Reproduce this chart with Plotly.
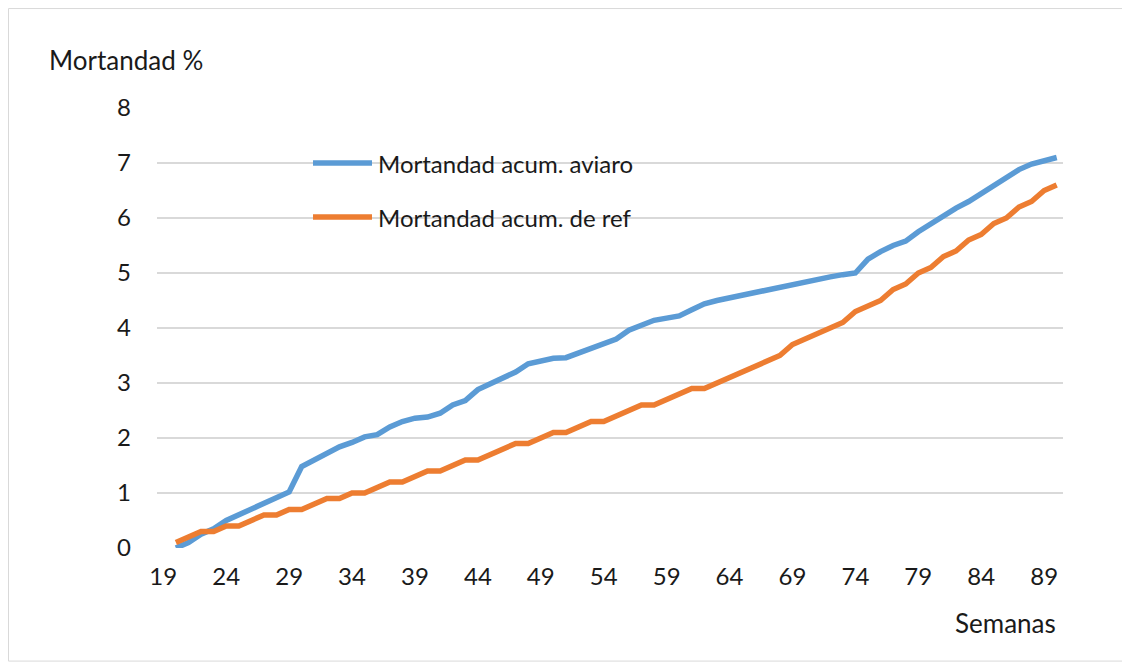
import plotly.graph_objects as go

# semanas de vida (eje de categorías 19..90, datos desde la 20)
semanas = list(range(20, 91))

# mortandad acumulada del aviaro (%)
mort_aviaro = [0.0, 0.1, 0.25, 0.35, 0.5, 0.6, 0.7, 0.8, 0.92, 1.02,
               1.48, 1.6, 1.7, 1.84, 1.92, 2.02, 2.06, 2.2, 2.3, 2.36,
               2.38, 2.45, 2.6, 2.68, 2.88, 2.98, 3.1, 3.2, 3.35, 3.4,
               3.45, 3.46, 3.55, 3.64, 3.72, 3.8, 3.96, 4.05, 4.14, 4.18,
               4.22, 4.33, 4.44, 4.5, 4.55, 4.6, 4.65, 4.68, 4.75, 4.8,
               4.83, 4.9, 4.93, 4.97, 5.0, 5.25, 5.39, 5.5, 5.58, 5.75,
               5.9, 6.04, 6.18, 6.3, 6.45, 6.6, 6.74, 6.88, 6.98, 7.04,
               7.1]

# mortandad acumulada de referencia (%)
mort_ref = [0.1, 0.2, 0.3, 0.3, 0.4, 0.4, 0.5, 0.6, 0.6, 0.7,
            0.7, 0.8, 0.9, 0.9, 1.0, 1.0, 1.1, 1.2, 1.2, 1.3,
            1.4, 1.4, 1.5, 1.6, 1.6, 1.7, 1.8, 1.9, 1.9, 2.0,
            2.1, 2.1, 2.2, 2.3, 2.3, 2.4, 2.5, 2.6, 2.6, 2.7,
            2.8, 2.9, 2.9, 3.0, 3.1, 3.2, 3.3, 3.4, 3.5, 3.7,
            3.8, 3.9, 4.0, 4.1, 4.3, 4.4, 4.5, 4.7, 4.8, 5.0,
            5.1, 5.3, 5.4, 5.6, 5.7, 5.9, 6.0, 6.2, 6.3, 6.5,
            6.6]

ticks_x = list(range(19, 90, 5))
nombres = ['Mortandad acum. aviaro', 'Mortandad acum. de ref']

azul = '#5B9BD5'
naranja = '#ED7D31'
rejilla = '#D9D9D9'
texto = '#1a1a1a'
fuente = 'Lato'
grosor = 5.5

fig = go.Figure()
fig.add_trace(go.Scatter(x=semanas, y=mort_aviaro,
                         mode='lines',
                         name=nombres[0],
                         line=dict(color=azul, width=grosor)))
fig.add_trace(go.Scatter(x=semanas, y=mort_ref,
                         mode='lines',
                         name=nombres[1],
                         line=dict(color=naranja, width=grosor)))

# leyenda dibujada a mano dentro del área del gráfico (como en Excel)
leyenda_y = [0.875, 0.752]
formas = [dict(type='rect', xref='paper', yref='paper',
               x0=-0.1639, x1=1.066, y0=-0.257, y1=1.226,
               line=dict(color=rejilla, width=1))]
notas = [dict(text='Mortandad %', xref='paper', yref='paper',
              x=-0.1214, y=1.109, xanchor='left', yanchor='middle',
              showarrow=False, font=dict(size=26, color=texto)),
         dict(text='Semanas', xref='paper', yref='paper',
              x=0.9945, y=-0.1705, xanchor='right', yanchor='middle',
              showarrow=False, font=dict(size=26, color=texto))]
for nombre, color, yy in zip(nombres, [azul, naranja], leyenda_y):
    formas.append(dict(type='line', xref='paper', yref='paper',
                       x0=0.1722, x1=0.2373, y0=yy, y1=yy,
                       line=dict(color=color, width=grosor)))
    notas.append(dict(text=nombre, xref='paper', yref='paper',
                      x=0.2417, y=yy, xanchor='left', yanchor='middle',
                      showarrow=False, font=dict(size=24, color=texto)))

# la página html deja 8px de margen: la figura ocupa 1122x660
fig.update_layout(width=1122, height=660,
                  margin=dict(l=149, r=67, t=100, b=120),
                  plot_bgcolor='white',
                  paper_bgcolor='white',
                  font=dict(family=fuente, size=24, color=texto),
                  showlegend=False,
                  shapes=formas,
                  annotations=notas)

fig.update_xaxes(range=[18.5, 90.5],
                 tickvals=ticks_x,
                 showgrid=False,
                 showline=False,
                 zeroline=False,
                 ticks='',
                 ticklabelstandoff=12)
fig.update_yaxes(range=[0, 8],
                 dtick=1,
                 gridcolor=rejilla,
                 gridwidth=1.5,
                 showline=False,
                 zeroline=False,
                 ticks='',
                 ticklabelstandoff=25)

fig.write_html("out.html")
